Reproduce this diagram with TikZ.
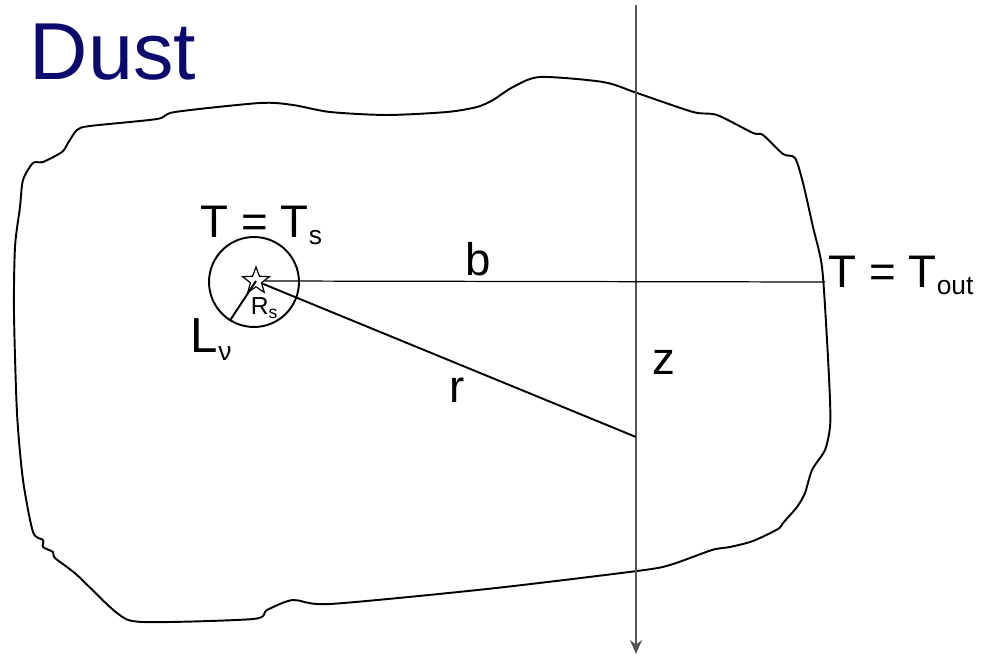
\documentclass[tikz,border=0pt]{standalone}
\usepackage{fontspec}
\setsansfont{Liberation Sans}
\usetikzlibrary{arrows.meta, shapes.geometric}
\definecolor{cnavy}{HTML}{0B0B6E}
\definecolor{cgrey}{HTML}{555555}
\newcommand{\lowsub}[2][15]{\raisebox{-0.28ex}{\fontsize{#1}{#1}\selectfont #2}}
\tikzset{
  every picture/.style={font=\sffamily, line width=1.1pt},
  lab/.style={font=\sffamily\fontsize{26}{30}\selectfont, inner sep=0pt, anchor=base west},
  small/.style={font=\sffamily\fontsize{14}{16}\selectfont, inner sep=0pt, anchor=base west},
  thin/.style={line width=0.7pt},
  axis/.style={-{Stealth[length=2.8mm, width=2.4mm]}, draw=cgrey, line width=1.2pt},
}

\begin{document}
\begin{tikzpicture}[x=0.02cm, y=-0.02cm]
  \useasboundingbox (0,0) rectangle (987,658);
  \node[font=\sffamily\fontsize{46}{50}\selectfont, text=cnavy, inner sep=0pt, anchor=base west] (title) at (29,80) {Dust};
  % the dust cloud
  \draw[line join=round] plot[smooth cycle, tension=0.45] coordinates {
    (20,207) (23,180) (33,163) (43,162) (62,152) (68,143) (77,130) (90,126)
    (157,119) (175,112) (260,103) (293,105) (330,112) (387,115) (447,112)
    (477,107) (493,100) (513,87) (540,77) (603,82) (637,93) (693,112)
    (717,115) (753,133) (763,135) (783,154) (795,158) (803,183) (813,227)
    (822,267) (827,340) (830,400) (830,427) (825,450) (812,470) (805,493)
    (797,507) (783,523) (778,529) (753,541) (730,547) (712,550) (670,565)
    (637,571) (487,589) (330,604) (293,600) (267,610) (253,619) (143,622)
    (117,613) (77,575) (55,558) (53,552) (43,547) (43,540) (33,532)
    (23,480) (17,413) (14,313) (15,247)};
  % source and its sphere
  \node[draw, circle, minimum size=1.8cm, inner sep=0pt] (rsphere) at (254,282) {};
  \node[draw, star, star points=5, star point ratio=2.4, minimum size=0.56cm, inner sep=0pt, line width=0.7pt] (src) at (256,281) {};
  \coordinate (bedge) at (825,282);
  \coordinate (zfoot) at (636,437);
  \coordinate (ztop) at (636,5);
  \coordinate (zbot) at (636,654);
  % lines
  \draw[axis] (ztop) -- (zbot);
  \draw[thin] (src) -- (bedge);
  \draw (src) -- (zfoot);
  \draw (src.center) -- (rsphere.238);
  % labels
  \node[lab] (tsrc) at (200,238) {T = T\lowsub{s}};
  \node[lab] (tout) at (828,288) {T = T\lowsub{out}};
  \node[small] (rs) at (250,315) {R\lowsub[10]{s}};
  \node[lab, font=\sffamily\fontsize{28}{30}\selectfont] (lnu) at (190,353) {L\lowsub{ν}};
  \node[lab] (blab) at (465,276) {b};
  \node[lab] (zlab) at (652,375) {z};
  \node[lab] (rlab) at (449,402) {r};
\end{tikzpicture}
\end{document}
